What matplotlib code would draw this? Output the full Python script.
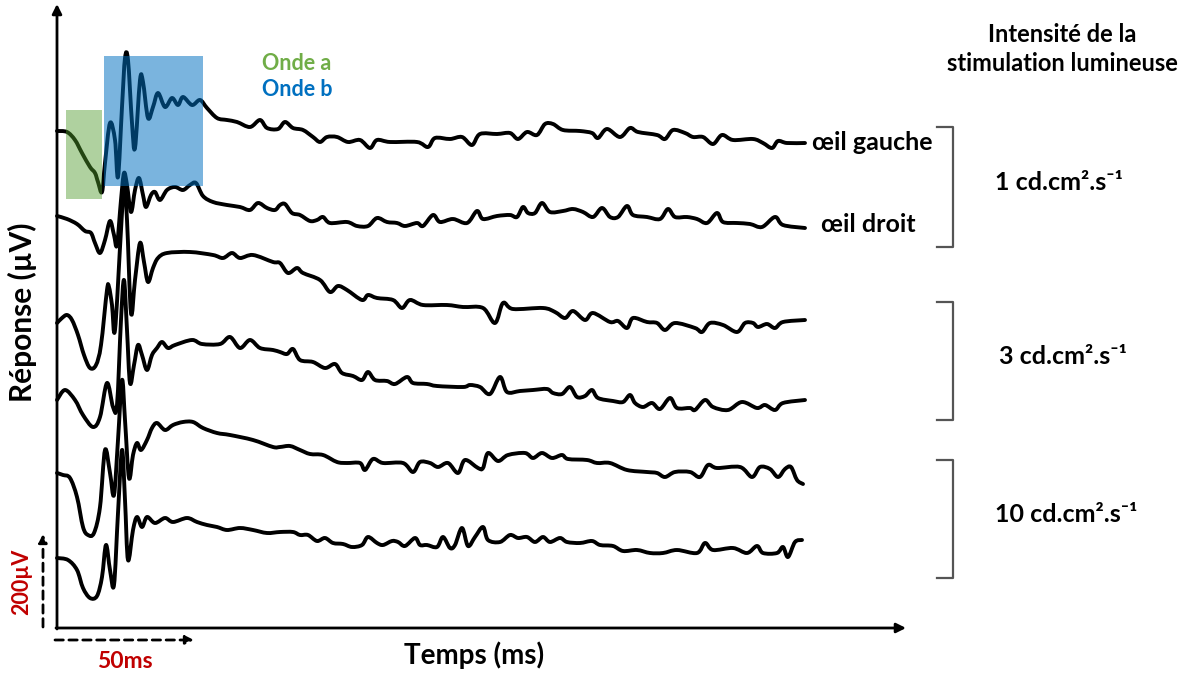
import matplotlib
matplotlib.use("Agg")
import matplotlib.pyplot as plt
from matplotlib.patches import Rectangle, PathPatch
from matplotlib.path import Path

plt.rcParams['font.family'] = ['Lato', 'DejaVu Sans']

# traces (time position, response position)
trace_1 = [(57,131),(67,132),(75,140),(82,153),(90,167),(95,173),(98,182),(102,192),(105,163),(110,123),(115,140),(118,177),(122,107),(125,58),(128,60),(132,123),(135,148),(140,80),(143,82),(148,118),(153,107),(158,93),(165,107),(172,98),(178,105),(183,97),(192,105),(200,100),(207,108),(217,118),(227,120),(237,122),(250,127),(260,120),(267,128),(278,129),(285,122),(293,128),(303,130),(313,137),(320,142),(327,137),(337,137),(348,142),(360,140),(370,148),(377,140),(390,142),(417,142),(428,147),(435,138),(450,139),(462,137),(472,145),(480,134),(497,134),(510,133),(518,139),(527,132),(537,135),(545,124),(553,124),(563,130),(580,131),(592,133),(598,138),(607,129),(620,137),(630,128),(638,132),(657,135),(665,139),(673,130),(685,133),(693,137),(703,137),(713,144),(722,135),(733,140),(753,139),(763,143),(772,148),(778,141),(787,143),(805,143)]

trace_2 = [(57,216),(67,219),(77,224),(85,231),(91,233),(95,243),(100,253),(105,240),(110,221),(114,235),(117,245),(121,200),(124,173),(127,185),(131,212),(135,190),(139,178),(143,195),(146,207),(151,195),(155,192),(160,200),(167,190),(175,187),(183,190),(190,185),(196,183),(203,196),(213,202),(227,205),(240,207),(250,210),(258,203),(267,208),(275,210),(280,205),(285,204),(292,213),(300,215),(310,221),(317,220),(323,217),(330,223),(347,222),(357,226),(368,226),(377,218),(387,222),(397,223),(405,226),(417,223),(423,226),(433,215),(440,222),(453,219),(467,223),(477,211),(483,219),(497,216),(510,215),(517,217),(523,207),(528,213),(535,213),(542,203),(550,212),(563,211),(573,209),(583,212),(593,217),(602,208),(610,217),(618,217),(627,206),(633,215),(647,217),(660,219),(668,209),(675,217),(687,217),(697,219),(707,223),(717,213),(723,222),(737,223),(750,224),(762,227),(775,217),(783,225),(805,228)]

trace_3 = [(57,323),(62,318),(67,315),(72,320),(78,335),(84,355),(90,368),(96,365),(101,345),(107,290),(109,287),(112,305),(115,330),(121,230),(124,185),(127,220),(131,313),(135,280),(140,243),(144,262),(148,282),(153,268),(158,258),(167,253),(190,252),(213,255),(223,258),(232,253),(240,258),(253,255),(273,262),(280,263),(288,273),(297,268),(303,273),(320,280),(330,292),(338,286),(347,290),(362,300),(368,295),(377,298),(393,300),(402,308),(410,300),(423,305),(447,305),(463,307),(483,308),(495,323),(503,303),(513,309),(543,308),(555,312),(565,318),(573,311),(585,320),(593,313),(610,322),(618,321),(627,328),(633,318),(647,322),(657,323),(665,330),(675,323),(695,328),(702,332),(710,323),(723,325),(737,332),(745,323),(753,323),(758,327),(767,324),(775,328),(783,322),(805,320)]

trace_4 = [(57,400),(65,390),(75,400),(83,415),(93,427),(100,417),(107,383),(113,407),(117,405),(121,320),(124,280),(127,330),(130,383),(134,365),(138,345),(142,355),(147,370),(152,355),(157,348),(162,342),(168,348),(175,345),(192,340),(202,344),(220,344),(230,337),(240,348),(250,340),(260,348),(273,350),(280,352),(287,354),(293,349),(300,360),(313,362),(325,368),(335,364),(342,373),(353,376),(362,380),(368,372),(375,380),(387,381),(395,384),(407,377),(413,383),(427,384),(437,386),(463,387),(470,385),(480,387),(490,394),(500,377),(507,392),(520,391),(533,390),(547,389),(553,393),(562,394),(570,387),(577,397),(585,396),(592,390),(598,398),(613,401),(623,402),(630,395),(635,403),(643,407),(652,403),(660,409),(670,398),(677,408),(690,408),(695,410),(705,400),(713,407),(728,410),(742,402),(757,408),(765,405),(775,410),(783,403),(805,400)]

trace_5 = [(57,473),(63,475),(70,478),(77,497),(83,527),(88,535),(94,533),(100,507),(105,450),(110,473),(114,495),(118,440),(122,380),(125,420),(129,478),(133,455),(137,443),(141,450),(147,440),(152,428),(157,423),(165,430),(173,425),(183,422),(193,422),(203,428),(217,433),(230,435),(253,440),(273,447),(280,447),(290,446),(300,450),(310,454),(323,455),(337,462),(347,463),(360,463),(365,470),(373,459),(383,463),(403,463),(413,472),(420,462),(430,463),(438,467),(448,463),(458,473),(465,460),(478,468),(483,468),(488,453),(498,461),(508,455),(525,453),(533,458),(542,453),(552,458),(562,455),(568,459),(587,460),(597,463),(610,463),(627,470),(647,472),(657,473),(665,477),(675,472),(690,472),(700,477),(708,465),(717,468),(740,467),(752,477),(760,467),(770,469),(778,477),(785,469),(791,467),(797,480),(803,484)]

trace_6 = [(57,558),(68,560),(77,570),(83,588),(90,598),(97,596),(102,577),(106,545),(110,570),(114,585),(118,513),(122,450),(125,500),(128,560),(133,530),(137,517),(142,527),(147,517),(155,523),(165,518),(173,522),(187,518),(197,522),(207,525),(217,527),(227,530),(240,528),(253,530),(267,533),(280,532),(293,532),(300,535),(308,535),(317,541),(325,538),(333,543),(343,544),(352,547),(362,545),(368,537),(377,543),(383,545),(392,541),(398,542),(405,546),(415,538),(420,545),(427,545),(437,547),(443,537),(450,548),(455,545),(462,528),(468,546),(475,537),(483,527),(488,540),(500,542),(510,535),(518,538),(527,537),(535,542),(543,537),(550,542),(560,538),(567,542),(580,543),(592,541),(600,545),(613,546),(623,551),(637,550),(650,553),(663,553),(677,550),(697,553),(705,543),(713,550),(733,548),(747,553),(757,546),(763,553),(777,553),(783,547),(788,557),(795,542),(802,540)]

traces = [trace_1, trace_2, trace_3, trace_4, trace_5, trace_6]

eye_labels = ["œil gauche", "œil droit"]
intensity_labels = ["1 cd.cm².s⁻¹", "3 cd.cm².s⁻¹", "10 cd.cm².s⁻¹"]
bracket_spans = [(127, 247), (302, 420), (460, 578)]


def smooth_path(pts):
    # Catmull-Rom through the read points, drawn as cubic beziers
    verts = [pts[0]]
    codes = [Path.MOVETO]
    n = len(pts)
    for i in range(n - 1):
        p0 = pts[max(i - 1, 0)]
        p1 = pts[i]
        p2 = pts[i + 1]
        p3 = pts[min(i + 2, n - 1)]
        c1 = (p1[0] + (p2[0] - p0[0]) / 6, p1[1] + (p2[1] - p0[1]) / 6)
        c2 = (p2[0] - (p3[0] - p1[0]) / 6, p2[1] - (p3[1] - p1[1]) / 6)
        verts += [c1, c2, p2]
        codes += [Path.CURVE4] * 3
    return Path(verts, codes)


fig = plt.figure(figsize=(12, 6.77), dpi=100)
ax = fig.add_axes([0, 0, 1, 1])
ax.set_xlim(0, 1200)
ax.set_ylim(677, 0)
ax.axis("off")

for tr in traces:
    ax.add_patch(PathPatch(smooth_path(tr), facecolor="none", edgecolor="black", lw=2.8,
                           joinstyle="round", capstyle="round", zorder=2))

# onde a / onde b boxes
ax.add_patch(Rectangle((66, 110), 36, 89, facecolor="#4E9A2A", alpha=0.45, lw=0, zorder=3))
ax.add_patch(Rectangle((104, 56), 99, 130, facecolor="#0070C0", alpha=0.52, lw=0, zorder=3))
ax.text(262, 63, "Onde a", color="#70AD47", fontsize=15.5, fontweight="bold", va="center")
ax.text(262, 90, "Onde b", color="#0070C0", fontsize=15.5, fontweight="bold", va="center")

# axes arrows
ax.annotate("", xy=(57, 4), xytext=(57, 629),
            arrowprops=dict(arrowstyle="-|>", color="black", lw=2, mutation_scale=14, shrinkA=0, shrinkB=0))
ax.annotate("", xy=(906, 628), xytext=(56, 628),
            arrowprops=dict(arrowstyle="-|>", color="black", lw=2, mutation_scale=14, shrinkA=0, shrinkB=0))

# scale bars
ax.annotate("", xy=(43, 534), xytext=(43, 627),
            arrowprops=dict(arrowstyle="-|>", color="black", lw=2, ls=(0, (3, 2)), mutation_scale=12, shrinkA=0, shrinkB=0))
ax.annotate("", xy=(194, 640), xytext=(55, 640),
            arrowprops=dict(arrowstyle="-|>", color="black", lw=2, ls=(0, (3, 2)), mutation_scale=12, shrinkA=0, shrinkB=0))
ax.text(22, 582, "200µV", color="#C00000", fontsize=15.5, fontweight="bold", rotation=90, ha="center", va="center")
ax.text(125, 661, "50ms", color="#C00000", fontsize=16.5, fontweight="bold", ha="center", va="center")

ax.text(474, 655, "Temps (ms)", fontsize=20, fontweight="bold", ha="center", va="center")
ax.text(22, 312, "Réponse (µV)", fontsize=21.5, fontweight="bold", rotation=90, ha="center", va="center")

ax.text(1062, 49, "Intensité de la\nstimulation lumineuse", fontsize=17, fontweight="bold",
        ha="center", va="center", linespacing=1.3)

ax.text(872, 143, eye_labels[0], fontsize=18, fontweight="bold", ha="center", va="center")
ax.text(868, 225, eye_labels[1], fontsize=18, fontweight="bold", ha="center", va="center")

label_x = [1059, 1063, 1066]
for (top, bot), lab, lx in zip(bracket_spans, intensity_labels, label_x):
    ax.plot([937, 953, 953, 937], [top, top, bot, bot], color="#555555", lw=1.6, zorder=2)
    ax.text(lx, (top + bot) / 2 - 4, lab, fontsize=18, fontweight="bold", ha="center", va="center")

fig.savefig("out.png", dpi=100)
